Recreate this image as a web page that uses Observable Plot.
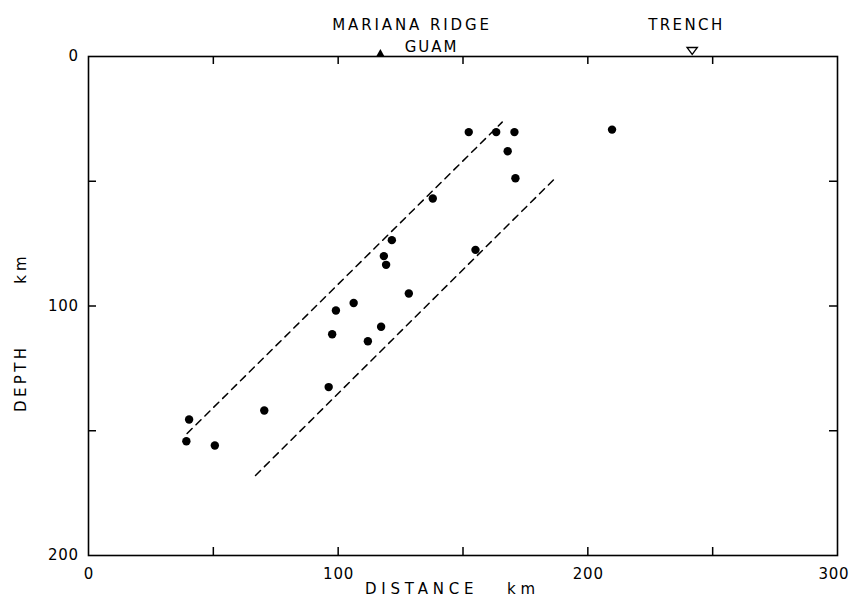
<!DOCTYPE html>
<html>
<head>
<meta charset="utf-8">
<script src="https://cdn.jsdelivr.net/npm/d3@7"></script>
<script src="https://cdn.jsdelivr.net/npm/@observablehq/plot@0.6"></script>
<style>
  body { margin: 0; background: #fff; }
  #chart svg { display: block; }
</style>
</head>
<body>
<div id="chart"></div>
<script>
// Earthquake hypocentres beneath the Mariana arc near Guam
const quakeDistance = [152.3, 163.3, 170.6, 167.9, 171.0, 209.7, 137.9, 121.5, 118.3, 119.2, 155.0,
                       128.3, 106.2, 99.1, 97.6, 117.2, 111.9, 96.2, 70.4, 40.3, 39.2, 50.6];
const quakeDepth    = [30.3, 30.3, 30.3, 38.0, 48.8, 29.3, 56.9, 73.6, 80.0, 83.5, 77.5,
                       95.0, 98.8, 101.8, 111.3, 108.3, 114.1, 132.5, 141.9, 145.5, 154.2, 155.9];

// Bounds of the seismic zone (dashed)
const upperBoundDistance = [39.5, 165.7];
const upperBoundDepth    = [151.1, 26.3];
const lowerBoundDistance = [66.9, 186.3];
const lowerBoundDepth    = [167.9, 49.4];

// Surface features along the section
const siteNames    = ["GUAM", "TRENCH"];
const siteDistance = [116.9, 241.8];
const labelText     = ["MARIANA RIDGE", "GUAM", "TRENCH"];
const labelDistance = [129, 137, 239];
const labelLine     = [1, 2, 1];

// Axis ticks
const xTickLabels = [0, 100, 200, 300];
const yTickLabels = [0, 100, 200];
const xTickMarks  = [50, 100, 150, 200, 250];
const yTickMarks  = [50, 100, 150];

const quakes = quakeDistance.map((d, i) => ({distance: d, depth: quakeDepth[i]}));
const upperBound = upperBoundDistance.map((d, i) => ({distance: d, depth: upperBoundDepth[i]}));
const lowerBound = lowerBoundDistance.map((d, i) => ({distance: d, depth: lowerBoundDepth[i]}));
const sites = siteNames.map((name, i) => ({name, distance: siteDistance[i]}));
const labels = labelText.map((text, i) => ({text, distance: labelDistance[i], line: labelLine[i]}));

// Filled triangle standing on the surface line, and an open inverted one above it
const ridgeSymbol = {draw(ctx) { ctx.moveTo(-4.2, 0); ctx.lineTo(4.2, 0); ctx.lineTo(0, -7.5); ctx.closePath(); }};
const trenchSymbol = {draw(ctx) { ctx.moveTo(-5.2, -9); ctx.lineTo(5.2, -9); ctx.lineTo(0, -2); ctx.closePath(); }};

const W = 849, H = 605;
const mL = 88, mR = 12, mT = 56, mB = 50;
const innerW = W - mL - mR, innerH = H - mT - mB;
const tickLen = 8;

const dash = {stroke: "#000", strokeWidth: 1.5, strokeDasharray: "7,5.5"};

const chart = Plot.plot({
  width: W,
  height: H,
  marginLeft: mL,
  marginRight: mR,
  marginTop: mT,
  marginBottom: mB,
  style: {fontFamily: "DejaVu Sans", fontSize: "15px", color: "#000", background: "#fff"},
  x: {domain: [0, 300]},
  y: {domain: [0, 200], reverse: true},
  marks: [
    Plot.frame({stroke: "#000", strokeWidth: 1.6}),
    Plot.axisX({ticks: xTickLabels, tickSize: 0, tickPadding: 13, label: null, tickFormat: d => String(d)}),
    Plot.axisY({ticks: yTickLabels, tickSize: 0, tickPadding: 10, label: null, tickFormat: d => String(d)}),
    // inward tick marks on all four sides
    Plot.tickX(xTickMarks, {x: d => d, insetTop: innerH - tickLen, stroke: "#000", strokeWidth: 1.5}),
    Plot.tickX(xTickMarks, {x: d => d, insetBottom: innerH - tickLen, stroke: "#000", strokeWidth: 1.5}),
    Plot.tickY(yTickMarks, {y: d => d, insetRight: innerW - tickLen, stroke: "#000", strokeWidth: 1.5}),
    Plot.tickY(yTickMarks, {y: d => d, insetLeft: innerW - tickLen, stroke: "#000", strokeWidth: 1.5}),
    // zone boundaries
    Plot.line(upperBound, {x: "distance", y: "depth", ...dash}),
    Plot.line(lowerBound, {x: "distance", y: "depth", ...dash}),
    // hypocentres
    Plot.dot(quakes, {x: "distance", y: "depth", r: 4.2, fill: "#000", stroke: "none"}),
    // surface markers
    Plot.dot(sites.filter(d => d.name === "GUAM"), {x: "distance", y: 0, symbol: ridgeSymbol, r: 4, fill: "#000", stroke: "none"}),
    Plot.dot(sites.filter(d => d.name === "TRENCH"), {x: "distance", y: 0, symbol: trenchSymbol, r: 4, fill: "#fff", stroke: "#000", strokeWidth: 1.3}),
    Plot.text(labels.filter(d => d.line === 1), {x: "distance", text: "text", frameAnchor: "top", dy: -37, fontSize: 15}),
    Plot.text(labels.filter(d => d.line === 2), {x: "distance", text: "text", frameAnchor: "top", dy: -15, fontSize: 15}),
    // axis titles
    Plot.text(["DISTANCE\u00a0\u00a0\u00a0km"], {text: d => d, frameAnchor: "bottom", dx: -13, dy: 38, fontSize: 15}),
    Plot.text(["DEPTH"], {text: d => d, frameAnchor: "left", textAnchor: "middle", rotate: -90, dx: -67, dy: 74, fontSize: 15}),
    Plot.text(["km"], {text: d => d, frameAnchor: "left", textAnchor: "middle", rotate: -90, dx: -67, dy: -36, fontSize: 15})
  ]
});

// Plotter-style lettering: widen the spacing between characters
const spacing = {
  "MARIANA RIDGE": 2.9,
  "GUAM": 2.0,
  "TRENCH": 2.4,
  "DISTANCE\u00a0\u00a0\u00a0km": 4.8,
  "DEPTH": 3.4,
  "km": 4
};
d3.select(chart).selectAll("text").each(function () {
  const t = this.textContent;
  const s = spacing[t] ?? (/^\d+$/.test(t) ? 0.8 : null);
  if (s != null) {
    this.setAttribute("letter-spacing", s);
    // keep the centred text centred despite the trailing gap after the last glyph
    const anchor = this.getAttribute("text-anchor");
    if (anchor === "middle" || !anchor) {
      const dx = parseFloat(this.getAttribute("dx") || 0);
      this.setAttribute("dx", dx + s / 2);
    }
  }
  // the last distance label sits flush against the right edge
  if (t === "300") {
    const dx = parseFloat(this.getAttribute("dx") || 0);
    this.setAttribute("dx", dx - 4);
  }
});

document.getElementById("chart").appendChild(chart);
</script>
</body>
</html>
